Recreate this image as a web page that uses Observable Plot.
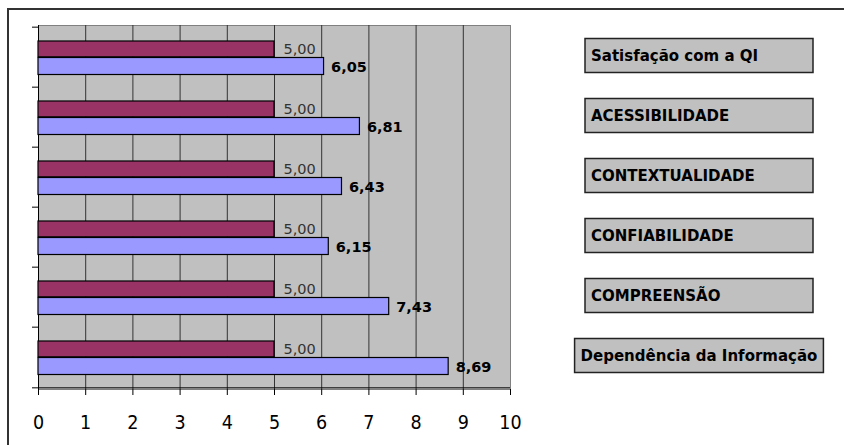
<!DOCTYPE html>
<html>
<head>
<meta charset="utf-8">
<script src="https://cdn.jsdelivr.net/npm/d3@7"></script>
<script src="https://cdn.jsdelivr.net/npm/@observablehq/plot@0.6"></script>
<style>
  html, body { margin: 0; padding: 0; background: #fff; overflow: hidden; }
  #wrap { position: relative; width: 844px; height: 445px; }
  #outer { position: absolute; left: 7px; top: 8px; width: 900px; height: 500px; border: 2px solid #333; box-sizing: border-box; }
  #chart { position: absolute; left: 0; top: 0; }
</style>
</head>
<body>
<div id="wrap"><div id="outer"></div><div id="chart"></div></div>
<script>
// ---- data ----
const categories = [
  "Satisfação com a QI",
  "ACESSIBILIDADE",
  "CONTEXTUALIDADE",
  "CONFIABILIDADE",
  "COMPREENSÃO",
  "Dependência da Informação"
];
const reference = [5.00, 5.00, 5.00, 5.00, 5.00, 5.00];
const scores = [6.05, 6.81, 6.43, 6.15, 7.43, 8.69];
const xTicks = [0, 1, 2, 3, 4, 5, 6, 7, 8, 9, 10];

const rows = categories.map((c, i) => ({category: c, ref: reference[i], score: scores[i]}));
const fmt = v => d3.format(".2f")(v).replace(".", ",");

// ---- layout ----
const W = 844, H = 445, mL = 38, mR = 334, mT = 25, mB = 56;
const step = (H - mT - mB) / categories.length;
const axisFont = "'DejaVu Sans Condensed', 'DejaVu Sans', sans-serif";
const labelFont = "'DejaVu Sans', sans-serif";

const plot = Plot.plot({
  width: W, height: H,
  marginLeft: mL, marginRight: mR, marginTop: mT, marginBottom: mB,
  style: {background: "transparent", color: "#000", fontFamily: labelFont, overflow: "visible"},
  x: {domain: [0, 10], axis: null, label: null},
  y: {domain: categories, padding: 0, axis: null, label: null},
  marks: [
    Plot.frame({fill: "#c0c0c0", stroke: "#808080"}),
    Plot.gridX(xTicks.slice(1, -1), {stroke: "#333", strokeOpacity: 1}),
    Plot.ruleX([0], {stroke: "#000"}),
    Plot.barX(rows, {x: "ref", y: "category", fill: "#993366", stroke: "#000", strokeWidth: 1.2,
      insetTop: 14, insetBottom: step - 30.5}),
    Plot.barX(rows, {x: "score", y: "category", fill: "#9999ff", stroke: "#000", strokeWidth: 1.2,
      insetTop: 30.5, insetBottom: 12.5}),
    Plot.ruleY([categories[categories.length - 1]], {dy: step / 2, stroke: "#000", insetLeft: -6}),
    Plot.axisY(categories, {anchor: "left", tickSize: 6, tickFormat: () => "", label: null, dy: -step / 2, stroke: "#000"}),
    Plot.axisX(xTicks, {anchor: "bottom", tickSize: 6, tickPadding: 20, fontSize: 19.5, label: null,
      fontFamily: axisFont, fill: "#000", stroke: "#000"}),
    Plot.text(rows, {x: "ref", y: "category", text: d => fmt(d.ref), textAnchor: "start",
      dx: 9, dy: -8.5, fontSize: 14.5, fill: "#333"}),
    Plot.text(rows, {x: "score", y: "category", text: d => fmt(d.score), textAnchor: "start",
      dx: 7, dy: 9.4, fontSize: 14.5, fontWeight: "bold", fill: "#000"})
  ]
});

document.getElementById("chart").appendChild(plot);

// ---- category label boxes on the right, aligned to the band scale ----
const yS = plot.scale("y");
const bw = yS.bandwidth != null ? yS.bandwidth : step;
const svg = d3.select(plot);
const g = svg.append("g").attr("font-family", labelFont).attr("font-size", 15)
  .attr("font-weight", "bold").attr("text-anchor", "start");
const boxCenterX = 699, minW = 228, boxH = 34, pad = 6;
categories.forEach(c => {
  const cy = yS.apply(c) + bw / 2 - 1.5;
  const grp = g.append("g");
  const rect = grp.append("rect");
  const t = grp.append("text").text(c).attr("fill", "#000").attr("dy", "0.36em").attr("y", cy)
    .attr("text-anchor", "start");
  const tw = t.node().getComputedTextLength();
  const bwid = Math.max(minW, tw + 2 * pad);
  const bx = boxCenterX - bwid / 2;
  t.attr("x", bx + pad);
  rect.attr("x", bx).attr("y", cy - boxH / 2).attr("width", bwid).attr("height", boxH)
    .attr("fill", "#c0c0c0").attr("stroke", "#222").attr("stroke-width", 1.5);
});
</script>
</body>
</html>
